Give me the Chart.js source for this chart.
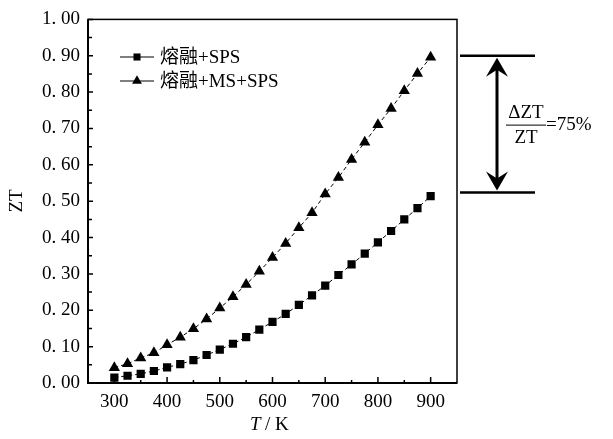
<!DOCTYPE html>
<html>
<head>
<meta charset="utf-8">
<script src="https://cdn.jsdelivr.net/npm/chart.js@4"></script>
<style>
  html, body { margin: 0; padding: 0; background: #fff; }
  #wrap { width: 613px; height: 439px; }
</style>
</head>
<body>
<div id="wrap"><canvas id="zt" width="613" height="439"></canvas></div>
<script>
// -------------------------- data --------------------------
const temps = [300, 325, 350, 375, 400, 425, 450, 475, 500, 525, 550, 575, 600,
               625, 650, 675, 700, 725, 750, 775, 800, 825, 850, 875, 900];
const ztMeltSps = [0.015, 0.020, 0.025, 0.033, 0.043, 0.052, 0.063, 0.077, 0.092, 0.108, 0.126, 0.147, 0.168,
                   0.190, 0.215, 0.241, 0.268, 0.297, 0.326, 0.356, 0.387, 0.418, 0.450, 0.481, 0.514];
const ztMeltMsSps = [0.042, 0.053, 0.069, 0.083, 0.105, 0.126, 0.149, 0.176, 0.206, 0.237, 0.271, 0.307, 0.345,
                     0.384, 0.427, 0.468, 0.520, 0.565, 0.615, 0.662, 0.710, 0.755, 0.804, 0.851, 0.896];
const seriesNames = ['熔融+SPS', '熔融+MS+SPS'];
const xTicks = [300, 400, 500, 600, 700, 800, 900];
const yTicks = [0, 0.1, 0.2, 0.3, 0.4, 0.5, 0.6, 0.7, 0.8, 0.9, 1.0];
const annoLevels = [0.90, 0.524]; // top / bottom of the ΔZT bracket
const annoText = ['ΔZT', 'ZT', '=75%'];

const SERIF = '"Liberation Serif", "DejaVu Serif", serif';
const MIXED = '"Liberation Serif", "Noto Sans CJK SC", serif';

// -------------------------- plugins --------------------------

// frame + inward ticks + axis titles
const framePlugin = {
  id: 'frame',
  afterDraw(chart) {
    const { ctx, chartArea: a, scales } = chart;
    ctx.save();
    ctx.strokeStyle = '#000';
    ctx.lineWidth = 1.5;
    ctx.strokeRect(a.left, a.top, a.right - a.left, a.bottom - a.top);
    ctx.lineWidth = 2;
    ctx.beginPath();
    ctx.moveTo(a.left, a.top); ctx.lineTo(a.left, a.bottom); ctx.lineTo(a.right, a.bottom);
    ctx.stroke();

    ctx.lineWidth = 1.5;
    ctx.beginPath();
    for (let v = 300; v <= 900; v += 50) {
      const x = scales.x.getPixelForValue(v);
      const len = v % 100 === 0 ? 6 : 3;
      ctx.moveTo(x, a.bottom); ctx.lineTo(x, a.bottom - len);
    }
    for (let i = 0; i <= 20; i++) {
      const y = scales.y.getPixelForValue(i * 0.05);
      const len = i % 2 === 0 ? 5 : 4;
      ctx.moveTo(a.left, y); ctx.lineTo(a.left + len, y);
    }
    ctx.stroke();

    // axis titles
    ctx.fillStyle = '#000';
    ctx.font = '19px ' + SERIF;
    ctx.textBaseline = 'middle';
    ctx.save();
    ctx.translate(17, 201);
    ctx.rotate(-Math.PI / 2);
    ctx.textAlign = 'center';
    ctx.fillText('ZT', 0, 0);
    ctx.restore();

    ctx.textAlign = 'left';
    ctx.font = 'italic 19px ' + SERIF;
    ctx.fillText('T', 250, 425);
    ctx.font = '19px ' + SERIF;
    ctx.fillText('/ K', 265, 425);
    ctx.restore();
  }
};

// legend inside plot, top-left
const legendPlugin = {
  id: 'innerLegend',
  afterDraw(chart) {
    const { ctx } = chart;
    ctx.save();
    chart.data.datasets.forEach((ds, i) => {
      const y = 57 + i * 24;
      ctx.strokeStyle = '#000';
      ctx.lineWidth = 1.2;
      ctx.setLineDash([]);
      ctx.beginPath();
      ctx.moveTo(120, y); ctx.lineTo(154, y);
      ctx.stroke();
      Chart.helpers.drawPoint(ctx, {
        pointStyle: ds.pointStyle, radius: ds.pointRadius - 0.8, borderWidth: 0
      }, 137, y);
      ctx.fillStyle = '#000';
      ctx.font = '19px ' + MIXED;
      ctx.textBaseline = 'middle';
      ctx.textAlign = 'left';
      ctx.fillText(ds.label, 160, y + 1);
    });
    ctx.restore();
  }
};

// ΔZT bracket to the right of the plot
const bracketPlugin = {
  id: 'bracket',
  afterDraw(chart) {
    const { ctx, chartArea: a, scales } = chart;
    const yTop = scales.y.getPixelForValue(annoLevels[0]);
    const yBot = scales.y.getPixelForValue(annoLevels[1]);
    const x0 = a.right + 3, x1 = a.right + 78, xm = a.right + 40;
    ctx.save();
    ctx.strokeStyle = '#000';
    ctx.fillStyle = '#000';
    ctx.lineWidth = 2.5;
    ctx.beginPath();
    ctx.moveTo(x0, yTop); ctx.lineTo(x1, yTop);
    ctx.moveTo(x0, yBot); ctx.lineTo(x1, yBot);
    ctx.stroke();
    ctx.lineWidth = 3;
    ctx.beginPath();
    ctx.moveTo(xm, yTop + 10); ctx.lineTo(xm, yBot - 10);
    ctx.stroke();
    const head = (tipY, dir) => {
      ctx.beginPath();
      ctx.moveTo(xm, tipY);
      ctx.lineTo(xm - 11, tipY + dir * 19);
      ctx.lineTo(xm, tipY + dir * 12);
      ctx.lineTo(xm + 11, tipY + dir * 19);
      ctx.closePath();
      ctx.fill();
    };
    head(yTop + 2, 1);
    head(yBot - 2, -1);

    ctx.font = '19px ' + SERIF;
    ctx.textBaseline = 'middle';
    ctx.textAlign = 'center';
    const fx = a.right + 69, fy = (yTop + yBot) / 2 + 1;
    ctx.fillText(annoText[0], fx, fy - 12);
    ctx.fillText(annoText[1], fx, fy + 13);
    ctx.lineWidth = 1;
    ctx.beginPath();
    ctx.moveTo(fx - 20, fy); ctx.lineTo(fx + 20, fy);
    ctx.stroke();
    ctx.textAlign = 'left';
    ctx.fillText(annoText[2], fx + 20, fy);
    ctx.restore();
  }
};

// -------------------------- chart --------------------------
const toPoints = ys => temps.map((t, i) => ({ x: t, y: ys[i] }));

const ctx = document.getElementById('zt').getContext('2d');
const chart = new Chart(ctx, {
  type: 'line',
  data: {
    datasets: [
      { label: seriesNames[0], data: toPoints(ztMeltSps), pointStyle: 'rect', pointRadius: 5.8,
        borderColor: '#000', backgroundColor: '#000', pointBorderWidth: 0, borderWidth: 1,
        borderDash: [4, 3], tension: 0 },
      { label: seriesNames[1], data: toPoints(ztMeltMsSps), pointStyle: 'triangle', pointRadius: 6.5,
        borderColor: '#000', backgroundColor: '#000', pointBorderWidth: 0, borderWidth: 1,
        borderDash: [4, 3], tension: 0 }
    ]
  },
  options: {
    responsive: false,
    animation: false,
    layout: { padding: { left: 0, top: 15, right: 156, bottom: 0 } },
    plugins: { legend: { display: false }, tooltip: { enabled: false } },
    scales: {
      x: {
        type: 'linear', min: 250, max: 950,
        afterBuildTicks: s => { s.ticks = xTicks.map(v => ({ value: v })); },
        afterFit: s => { s.height = 56; },
        grid: { display: false, drawTicks: false },
        border: { display: false },
        ticks: { color: '#000', padding: 8, font: { family: SERIF, size: 19 }, maxRotation: 0 }
      },
      y: {
        min: 0, max: 1,
        afterBuildTicks: s => { s.ticks = yTicks.map(v => ({ value: v })); },
        afterFit: s => { s.width = 88; },
        grid: { display: false, drawTicks: false },
        border: { display: false },
        ticks: { color: '#000', padding: 8, font: { family: SERIF, size: 19 },
                 callback: v => v.toFixed(2).replace('.', '. ') }
      }
    }
  },
  plugins: [framePlugin, legendPlugin, bracketPlugin]
});
</script>
</body>
</html>
